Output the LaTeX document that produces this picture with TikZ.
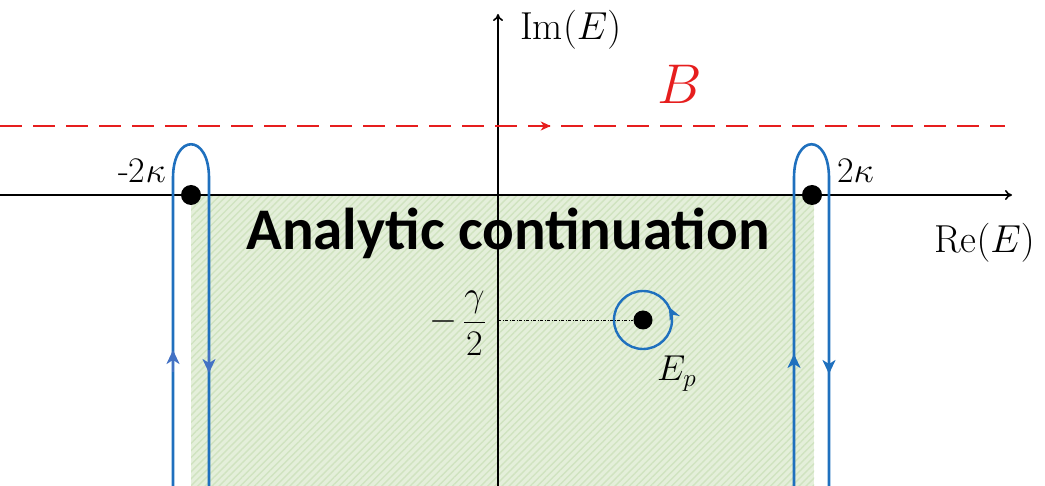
\RequirePackage{fix-cm}
\documentclass[tikz,border=0pt]{standalone}
\usepackage{fontspec}
\newfontfamily\calfont{Carlito}
\usetikzlibrary{arrows.meta,decorations.markings,patterns.meta}
\definecolor{cblue}{RGB}{31,112,190}
\definecolor{carrow}{RGB}{68,114,196}
\definecolor{gfill}{RGB}{228,239,218}
\definecolor{gline}{RGB}{208,227,192}
\definecolor{cred}{RGB}{230,30,30}
\begin{document}
\begin{tikzpicture}[x=1pt,y=-1pt,
  axis/.style={line width=1.6pt,-{To[length=7pt,width=10pt]}},
  loopline/.style={cblue,line width=2.6pt},
  tipup/.style={carrow,line width=2.6pt,-{Stealth[length=14pt,width=13pt,inset=4pt]}},
  dot/.style={circle,fill=black,inner sep=0pt,minimum size=20pt},
  lab/.style={inner sep=0pt,font=\fontsize{36}{40}\selectfont}
]
\useasboundingbox (0,0) rectangle (1045,486);
% shaded region
\fill[gfill] (191,195) rectangle (814,486);
\fill[pattern={Lines[angle=45,distance=5pt,line width=1.4pt]},pattern color=gline] (191,195) rectangle (814,486);
% axes
\coordinate (xs) at (0,195);
\coordinate (xe) at (1012,195);
\coordinate (ys) at (498,486);
\coordinate (ye) at (498,14);
\draw[axis] (xs) -- (xe);
\draw[axis] (ys) -- (ye);
% red dashed contour
\coordinate (bs) at (0,126);
\coordinate (be) at (1005,126);
\draw[cred,line width=2.2pt,dash pattern=on 22pt off 11pt,
  postaction={decorate},decoration={markings,mark=at position 0.548 with {\arrow[cred,solid]{Stealth[length=10pt,width=9pt,inset=3pt]}}}] (bs) -- (be);
% left loop
\draw[loopline] (173,486) -- (173,178) .. controls (173,133) and (209,133) .. (209,178) -- (209,486);
\coordinate (la1) at (173,372);
\coordinate (la2) at (173,350);
\coordinate (lb1) at (209,350);
\coordinate (lb2) at (209,373);
\draw[tipup] (la1) -- (la2);
\draw[tipup] (lb1) -- (lb2);
% right loop
\draw[loopline] (794,486) -- (794,178) .. controls (794,133) and (829,133) .. (829,178) -- (829,486);
\coordinate (ra1) at (794,377);
\coordinate (ra2) at (794,354);
\coordinate (rb1) at (829,351);
\coordinate (rb2) at (829,374);
\draw[tipup,cblue] (ra1) -- (ra2);
\draw[tipup,cblue] (rb1) -- (rb2);
% branch points
\node[dot] (bl) at (191,195) {};
\node[dot] (br) at (812,195) {};
% pole
\node[dot,minimum size=19pt] (pole) at (643,320) {};
\draw[loopline,line width=2.4pt,postaction={decorate},decoration={markings,
  mark=at position 0.075 with {\arrow[cblue]{Stealth[length=13pt,width=11pt,inset=4pt]}}}]
  (643,320) ++(0:29) arc[start angle=0,end angle=-360,radius=29];
\coordinate (gam) at (498,320);
\draw[line width=0.6pt,dash pattern=on 3pt off 1.5pt on 1pt off 1.5pt] (gam) -- (pole);
% labels
\node[lab,anchor=base west,font=\fontsize{39}{42}\selectfont] (im) at (520,40) {$\mathrm{Im}(E)$};
\node[lab,anchor=base west,font=\fontsize{39}{42}\selectfont] (re) at (934,253) {$\mathrm{Re}(E)$};
\node[lab,anchor=base,text=cred,font=\fontsize{56}{60}\selectfont] (B) at (680,104) {$B$};
\node[lab,anchor=base east] (m2k) at (166,183) {-2$\kappa$};
\node[lab,anchor=base west] (p2k) at (837,183) {$2\kappa$};
\node[lab,anchor=base east] (g2) at (486,331) {$-\,\displaystyle\frac{\gamma}{2}$};
\node[lab,anchor=base west,font=\fontsize{36}{40}\selectfont] (ep) at (657,381) {$E_p$};
\node[anchor=base,inner sep=0pt,font=\calfont\bfseries\fontsize{59}{64}\selectfont] (ac) at (508,250) {Analytic continuation};
\end{tikzpicture}
\end{document}
